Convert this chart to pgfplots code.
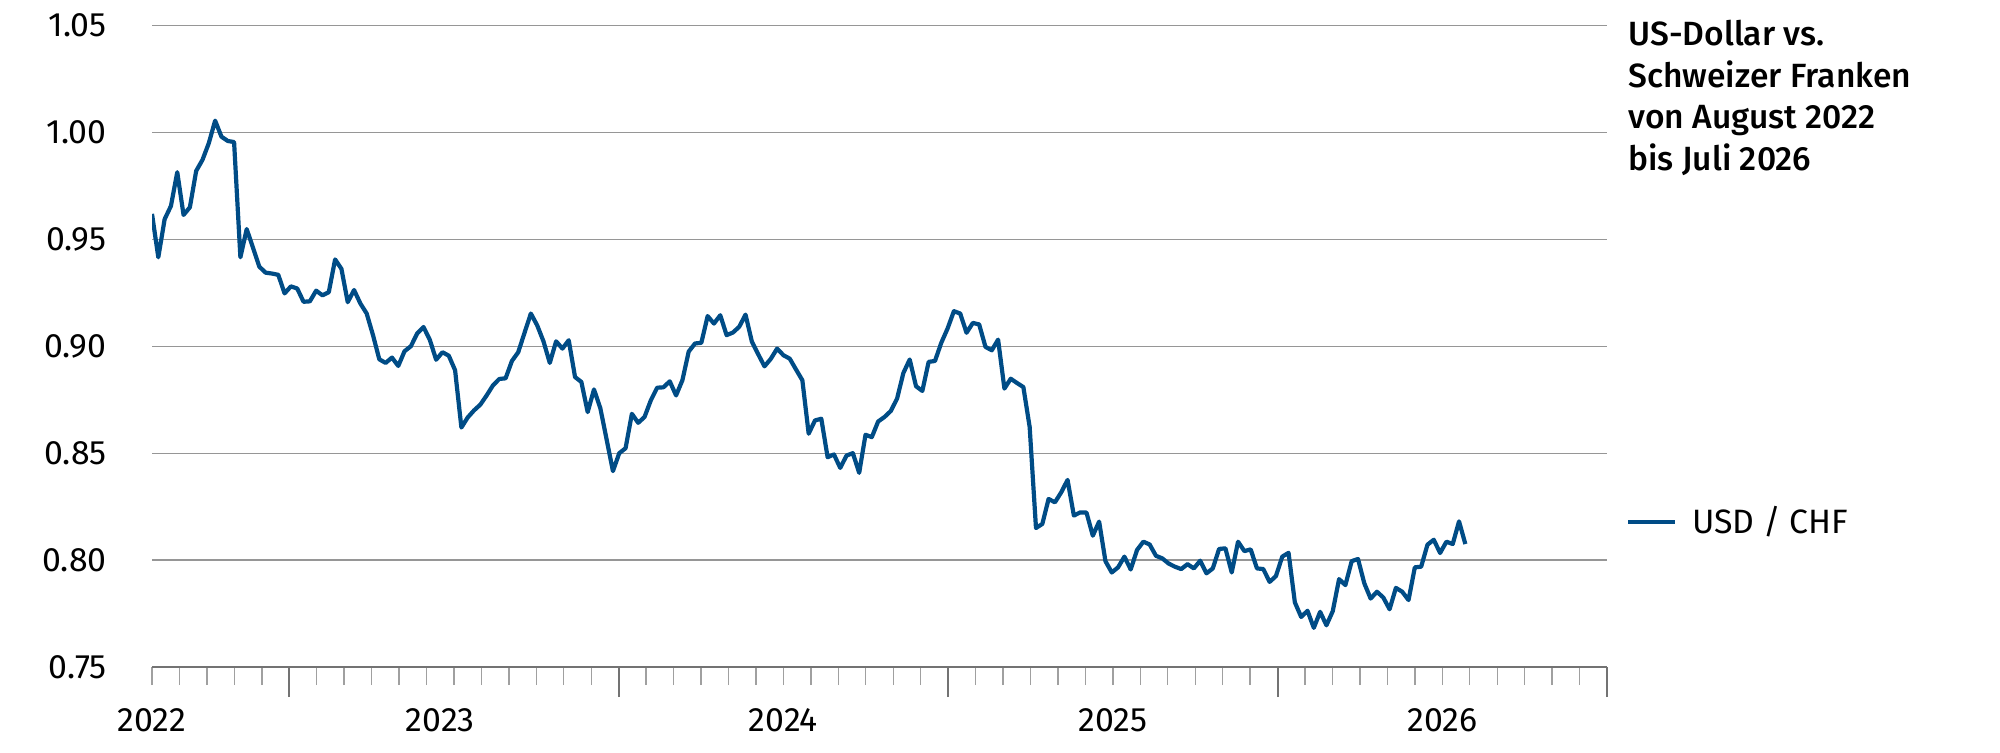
\documentclass[border=0pt]{standalone}
\usepackage{fontspec}
\setmainfont{Fira Sans}
\newfontfamily\titlefont{Fira Sans Medium}
\usepackage{pgfplots}
\pgfplotsset{compat=1.18}
\usepackage{pgfplotstable}
\definecolor{usdblue}{RGB}{0,76,134}
\definecolor{gridgray}{RGB}{150,150,150}
\definecolor{axisgray}{RGB}{115,115,115}
\definecolor{minorgray}{RGB}{160,160,160}
\newcommand{\tickfont}{\fontsize{16.9pt}{20pt}\selectfont}

\pgfplotstableread{
i v
0 0.9619
1 0.9416
2 0.9594
3 0.9656
4 0.9814
5 0.9614
6 0.9650
7 0.9820
8 0.9872
9 0.9950
10 1.0055
11 0.9980
12 0.9960
13 0.9955
14 0.9416
15 0.9548
16 0.9460
17 0.9372
18 0.9344
19 0.9340
20 0.9334
21 0.9247
22 0.9280
23 0.9270
24 0.9208
25 0.9210
26 0.9260
27 0.9238
28 0.9253
29 0.9406
30 0.9362
31 0.9206
32 0.9263
33 0.9200
34 0.9153
35 0.9052
36 0.8939
37 0.8922
38 0.8947
39 0.8908
40 0.8977
41 0.9000
42 0.9060
43 0.9090
44 0.9030
45 0.8937
46 0.8972
47 0.8956
48 0.8888
49 0.8620
50 0.8667
51 0.8700
52 0.8727
53 0.8770
54 0.8817
55 0.8847
56 0.8850
57 0.8931
58 0.8972
59 0.9063
60 0.9153
61 0.9098
62 0.9023
63 0.8922
64 0.9023
65 0.8989
66 0.9028
67 0.8856
68 0.8833
69 0.8692
70 0.8798
71 0.8711
72 0.8564
73 0.8416
74 0.8500
75 0.8523
76 0.8684
77 0.8642
78 0.8669
79 0.8747
80 0.8806
81 0.8808
82 0.8836
83 0.8770
84 0.8841
85 0.8975
86 0.9013
87 0.9016
88 0.9141
89 0.9106
90 0.9145
91 0.9052
92 0.9064
93 0.9091
94 0.9148
95 0.9022
96 0.8963
97 0.8906
98 0.8941
99 0.8989
100 0.8958
101 0.8942
102 0.8891
103 0.8841
104 0.8591
105 0.8653
106 0.8661
107 0.8481
108 0.8494
109 0.8431
110 0.8489
111 0.8500
112 0.8408
113 0.8586
114 0.8575
115 0.8648
116 0.8669
117 0.8697
118 0.8755
119 0.8875
120 0.8938
121 0.8813
122 0.8791
123 0.8927
124 0.8931
125 0.9016
126 0.9083
127 0.9164
128 0.9153
129 0.9063
130 0.9109
131 0.9102
132 0.8997
133 0.8981
134 0.9031
135 0.8802
136 0.8848
137 0.8828
138 0.8809
139 0.8622
140 0.8150
141 0.8169
142 0.8286
143 0.8270
144 0.8317
145 0.8375
146 0.8208
147 0.8223
148 0.8222
149 0.8114
150 0.8180
151 0.7995
152 0.7942
153 0.7966
154 0.8016
155 0.7956
156 0.8047
157 0.8086
158 0.8073
159 0.8020
160 0.8008
161 0.7984
162 0.7969
163 0.7958
164 0.7981
165 0.7961
166 0.7997
167 0.7938
168 0.7961
169 0.8052
170 0.8055
171 0.7942
172 0.8086
173 0.8042
174 0.8050
175 0.7961
176 0.7958
177 0.7898
178 0.7925
179 0.8016
180 0.8034
181 0.7802
182 0.7734
183 0.7763
184 0.7683
185 0.7758
186 0.7695
187 0.7761
188 0.7911
189 0.7883
190 0.7995
191 0.8005
192 0.7891
193 0.7820
194 0.7852
195 0.7825
196 0.7770
197 0.7870
198 0.7852
199 0.7813
200 0.7966
201 0.7969
202 0.8072
203 0.8095
204 0.8033
205 0.8086
206 0.8075
207 0.8181
208 0.8075
}\usdchf

\begin{document}
\begin{tikzpicture}
\path[use as bounding box] (0,0) rectangle (1000pt,376.5pt);
\begin{axis}[
  at={(76pt,43pt)}, anchor=south west,
  scale only axis, width=727.5pt, height=320.75pt,
  xmin=0, xmax=53, ymin=0.75, ymax=1.05,
  axis x line*=bottom, axis y line*=left,
  y axis line style={draw=none},
  x axis line style={draw=axisgray, line width=1pt, -},
  ytick={0.75,0.80,0.85,0.90,0.95,1.00,1.05},
  ymajorgrids,
  major grid style={draw=gridgray, line width=0.65pt},
  major y tick style={draw=none},
  yticklabel style={/pgf/number format/.cd, fixed, fixed zerofill, precision=2, assume math mode=true, /tikz/.cd, anchor=east, inner sep=0pt, xshift=-7.5pt},
  xtick={5,17,29,41,53},
  xticklabels={,,,,},
  minor xtick={0,1,...,53},
  tick align=outside,
  major tick length=15pt, minor tick length=9pt,
  major x tick style={draw=axisgray, line width=1pt},
  minor x tick style={draw=minorgray, line width=0.7pt},
  extra x ticks={0,10.5,23,35,47},
  extra x tick labels={2022,2023,2024,2025,2026},
  extra x tick style={major tick length=0pt, xticklabel style={anchor=north, inner sep=0pt, yshift=-20.7pt}},
  ticklabel style={font=\tickfont, text=black},
  legend style={at={(rel axis cs:1.0131,0.2265)}, anchor=west, draw=none, fill=none, inner sep=0pt, outer sep=0pt, column sep=7.5pt, nodes={inner sep=0pt, font=\tickfont}},
  legend image code/.code={\draw[#1, line width=2pt] (0pt,0pt) -- (23.5pt,0pt);},
]
\addplot[usdblue, line width=2.1pt, line join=round] table[x expr=\thisrow{i}*0.23, y=v] {\usdchf};
\addlegendentry{USD / CHF}
\end{axis}
\node[anchor=base west, align=left, inner sep=0pt, font=\titlefont\fontsize{16.8pt}{20.85pt}\selectfont] at (814pt,291.15pt) {US-Dollar vs.\\Schweizer Franken\\von August 2022\\bis Juli 2026};
\end{tikzpicture}
\end{document}
